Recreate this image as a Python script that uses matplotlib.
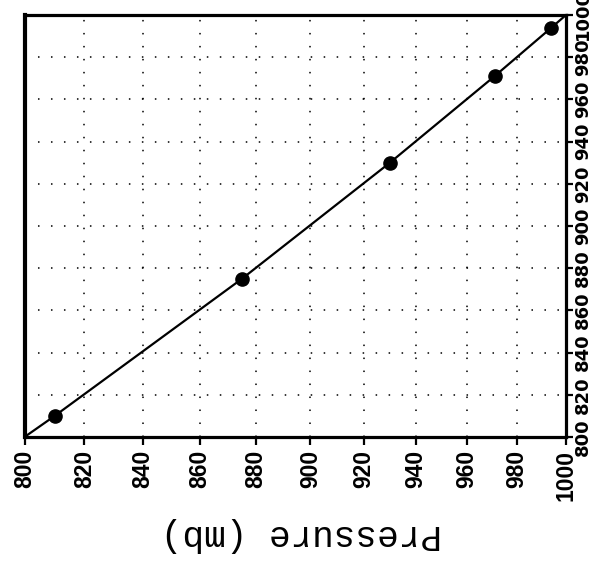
import matplotlib
matplotlib.use("Agg")
import matplotlib.pyplot as plt
from matplotlib import ticker

# calibration points, both axes in mb
p_ref = [810, 875, 930, 971, 994]
p_obs = [810, 875, 930, 971, 994]

# line runs corner to corner through the points
line_ref = [800, 810, 875, 930, 971, 994, 1000]
line_obs = [800, 810, 875, 930, 971, 994, 1000]

tick_vals = [800, 820, 840, 860, 880, 900, 920, 940, 960, 980, 1000]
tick_labels = ["800", "820", "840", "860", "880", "900",
               "920", "940", "960", "980", "1000"]

fig = plt.figure(figsize=(5.92, 5.70), dpi=100)
ax = fig.add_axes([0.0414, 0.2333, 0.9147, 0.7404])

ax.set_xscale("log")
ax.set_xlim(800, 1000)
ax.set_ylim(800, 1000)

ax.plot(line_ref, line_obs, color="k", lw=1.6, zorder=3)
ax.plot(p_ref, p_obs, "o", color="k", ms=9.5, zorder=4)

ax.set_xticks(tick_vals, labels=tick_labels)
ax.xaxis.set_minor_locator(ticker.NullLocator())
ax.xaxis.set_minor_formatter(ticker.NullFormatter())
ax.yaxis.tick_right()
ax.set_yticks(tick_vals, labels=tick_labels)

# dotted grid, roughly one dot every 12 px
ax.grid(True, linestyle=(0, (1, 7.5)), linewidth=1.1, color="k")

for s in ax.spines.values():
    s.set_linewidth(2.3)
ax.spines["left"].set_linewidth(3.0)

ax.tick_params(axis="x", direction="out", length=6, width=1.6, pad=3,
               labelrotation=90)
ax.tick_params(axis="y", direction="out", length=5, width=1.6, pad=1,
               labelrotation=90)

for lab in ax.get_xticklabels():
    lab.set_fontfamily("Liberation Sans")
    lab.set_fontweight("bold")
    lab.set_fontsize(16.5)
for lab in ax.get_yticklabels():
    lab.set_fontfamily("Liberation Sans Narrow")
    lab.set_fontweight("bold")
    lab.set_fontsize(13)
    lab.set_verticalalignment("center")

ax.set_xlabel("Pressure (mb)", fontfamily="Liberation Mono", fontsize=26,
              rotation=180, va="center", ha="center")
ax.xaxis.set_label_coords(0.5115, -0.232)

fig.savefig("out.png", dpi=100)
